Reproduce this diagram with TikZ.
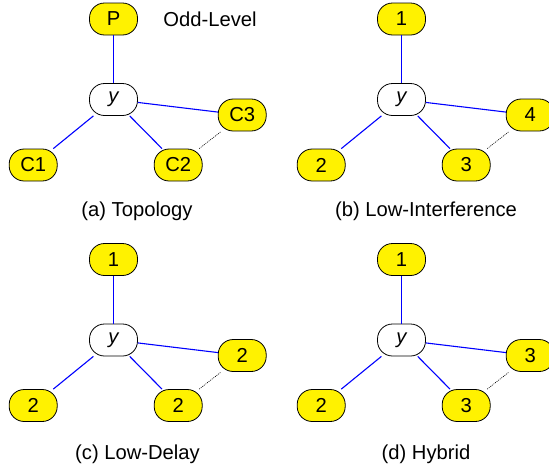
\documentclass[tikz,border=0pt]{standalone}
\usepackage{fontspec}
\setmainfont{Liberation Sans}
\begin{document}
\begin{tikzpicture}[x=1pt,y=-1pt,
  font=\fontsize{20.2}{24}\selectfont,
  vertex/.style={draw=black,line width=0.8pt,rounded corners=15pt,
    minimum width=48pt,minimum height=32pt,inner sep=0pt,fill=yellow},
  hub/.style={vertex,fill=white,font=\fontsize{20.2}{24}\selectfont\itshape},
  link/.style={draw=blue,line width=1.1pt},
  sibling/.style={draw=black,line width=0.6pt,dash pattern=on 1pt off 1pt},
  caption/.style={anchor=center,inner sep=0pt}]
\useasboundingbox (0,0) rectangle (549,469);

% one star-shaped group per panel: parent, hub y, three children
\foreach \dx/\dy/\pn/\cl/\cm/\cr/\tag in {
    0/0/P/C1/C2/C3/a,
    288/0/1/2/3/4/b,
    0/240.5/1/2/2/2/c,
    288/240.5/1/2/3/3/d}{
  \begin{scope}[shift={(\dx,\dy)}]
    \node[vertex] (par\tag) at (113.5,19) {\pn};
    \node[hub] (hub\tag) at (113.5,99.5) {y};
    \node[vertex] (left\tag) at (33.2,165) {\cl};
    \node[vertex] (mid\tag) at (178.2,165) {\cm};
    \node[vertex] (right\tag) at (242.2,115) {\cr};
    \draw[link] (par\tag) -- (hub\tag);
    \draw[link] (hub\tag) -- (left\tag);
    \draw[link] (hub\tag) -- (mid\tag);
    \draw[link] (hub\tag) -- (right\tag);
    \draw[sibling] (mid\tag) -- (right\tag);
  \end{scope}
}

\node[caption] (oddlevel) at (210,19) {Odd-Level};
\node[caption] (capa) at (137,211) {(a) Topology};
\node[caption] (capb) at (426,211) {(b) Low-Interference};
\node[caption] (capc) at (137.5,454) {(c) Low-Delay};
\node[caption] (capd) at (426,454) {(d) Hybrid};
\end{tikzpicture}
\end{document}
